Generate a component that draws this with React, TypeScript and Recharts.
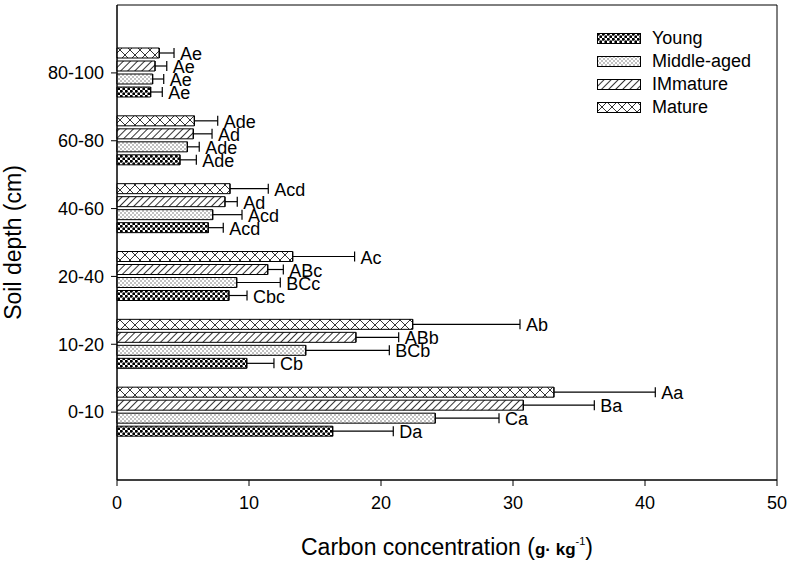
import React from 'react';
import {
  BarChart, Bar, XAxis, YAxis, ErrorBar, Label, CartesianGrid
} from 'recharts';

// depth classes, listed top to bottom as drawn
const depths = ['80-100', '60-80', '40-60', '20-40', '10-20', '0-10'];

// carbon concentration (g kg-1) and +SE for each stand age
const young = [2.55, 4.77, 6.92, 8.48, 9.83, 16.34];
const youngErr = [0.88, 1.24, 1.13, 1.37, 2.06, 4.59];
const youngSig = ['Ae', 'Ade', 'Acd', 'Cbc', 'Cb', 'Da'];

const middle = [2.7, 5.33, 7.25, 9.07, 14.3, 24.11];
const middleErr = [0.84, 0.9, 2.22, 3.3, 6.33, 4.83];
const middleSig = ['Ae', 'Ade', 'Acd', 'BCc', 'BCb', 'Ca'];

const immature = [2.88, 5.78, 8.18, 11.42, 18.1, 30.78];
const immatureErr = [0.89, 1.42, 0.93, 1.18, 3.24, 5.38];
const immatureSig = ['Ae', 'Ad', 'Ad', 'ABc', 'ABb', 'Ba'];

const mature = [3.2, 5.86, 8.56, 13.31, 22.4, 33.1];
const matureErr = [1.12, 1.77, 2.9, 4.69, 8.13, 7.68];
const matureSig = ['Ae', 'Ade', 'Acd', 'Ac', 'Ab', 'Aa'];

const xTicks = [0, 10, 20, 30, 40, 50];

const legendItems = [
  { name: 'Young', fill: 'url(#pYoung)' },
  { name: 'Middle-aged', fill: 'url(#pMiddle)' },
  { name: 'IMmature', fill: 'url(#pImmature)' },
  { name: 'Mature', fill: 'url(#pMature)' },
];

const FONT = '"Liberation Sans", Arial, sans-serif';

const data = depths.map((d, i) => ({
  depth: d,
  young: young[i], youngErr: youngErr[i],
  middle: middle[i], middleErr: middleErr[i],
  immature: immature[i], immatureErr: immatureErr[i],
  mature: mature[i], matureErr: matureErr[i],
}));

// letter label placed just past the error bar cap
const sigLabel = (vals: number[], errs: number[], letters: string[]) => (props: any) => {
  const { x, y, width, height, index } = props;
  const v = vals[index];
  const end = x + (width * (v + errs[index])) / v;
  return (
    <text x={end + 6} y={y + height / 2 + 1} dominantBaseline="central"
      fontSize={18} fontFamily={FONT} fill="#000">
      {letters[index]}
    </text>
  );
};

const LegendBox = () => (
  <div style={{ position: 'absolute', left: 597, top: 27, fontFamily: FONT, fontSize: 18 }}>
    {legendItems.map((it) => (
      <div key={it.name} style={{ display: 'flex', alignItems: 'center', height: 23 }}>
        <svg width={45} height={12} style={{ marginRight: 10 }}>
          <rect x={0.5} y={0.5} width={43} height={10} fill={it.fill} stroke="#000" />
        </svg>
        <span>{it.name}</span>
      </div>
    ))}
  </div>
);

export default function App() {
  return (
    <div style={{ position: 'absolute', left: 0, top: 0, width: 792, height: 563, background: '#fff' }}>
      <BarChart
        width={792}
        height={563}
        data={data}
        layout="vertical"
        margin={{ top: 5, right: 15, bottom: 23, left: 57 }}
        barSize={10}
        barGap={3}
      >
        <defs>
          <pattern id="pYoung" width={5} height={5} patternUnits="userSpaceOnUse">
            <rect width={5} height={5} fill="#fff" />
            <circle cx={1.25} cy={1.25} r={1.5} fill="#000" />
            <circle cx={3.75} cy={3.75} r={1.5} fill="#000" />
          </pattern>
          <pattern id="pMiddle" width={4} height={4} patternUnits="userSpaceOnUse">
            <rect width={4} height={4} fill="#fff" />
            <circle cx={1} cy={1} r={0.7} fill="#555" />
            <circle cx={3} cy={3} r={0.7} fill="#555" />
          </pattern>
          <pattern id="pImmature" width={5} height={5} patternUnits="userSpaceOnUse"
            patternTransform="rotate(45)">
            <rect width={5} height={5} fill="#fff" />
            <line x1={0} y1={0} x2={0} y2={5} stroke="#000" strokeWidth={1.6} />
          </pattern>
          <pattern id="pMature" width={10} height={10} patternUnits="userSpaceOnUse">
            <rect width={10} height={10} fill="#fff" />
            <path d="M0 0 L10 10 M10 0 L0 10" stroke="#000" strokeWidth={0.8} />
          </pattern>
        </defs>
        {/* frame around the plot area */}
        <CartesianGrid
          stroke="#000"
          strokeWidth={1}
          horizontalCoordinatesGenerator={({ offset }: any) => [offset.top, offset.top + offset.height]}
          verticalCoordinatesGenerator={({ offset }: any) => [offset.left, offset.left + offset.width]}
        />
        <XAxis
          type="number"
          domain={[0, 50]}
          ticks={xTicks}
          height={60}
          stroke="#000"
          tickSize={6}
          tickMargin={10}
          tick={{ fill: '#000', fontSize: 18, fontFamily: FONT }}
        >
          <Label
            content={(p: any) => {
              const vb = p.viewBox;
              return (
                <text x={vb.x + vb.width / 2} y={555} textAnchor="middle" fontFamily={FONT} fontSize={23} fill="#000">
                  Carbon concentration (
                  <tspan fontWeight="bold" fontSize={17}>g· kg</tspan>
                  <tspan fontSize={11} dy={-10}>-1</tspan>
                  <tspan dy={10}>)</tspan>
                </text>
              );
            }}
          />
        </XAxis>
        <YAxis
          type="category"
          dataKey="depth"
          width={60}
          stroke="#000"
          tickSize={6}
          tickMargin={7}
          padding={{ top: 34, bottom: 34 }}
          tick={{ fill: '#000', fontSize: 18, fontFamily: FONT }}
        >
          <Label
            content={(p: any) => {
              const vb = p.viewBox;
              const cy = vb.y + vb.height / 2;
              return (
                <text x={21} y={cy} textAnchor="middle" transform={`rotate(-90 21 ${cy})`}
                  fontFamily={FONT} fontSize={23} fill="#000">
                  Soil depth (cm)
                </text>
              );
            }}
          />
        </YAxis>
        <Bar dataKey="mature" name="Mature" fill="url(#pMature)" stroke="#000" isAnimationActive={false}
          label={sigLabel(mature, matureErr, matureSig)}>
          <ErrorBar dataKey={(d: any) => [0, d.matureErr]} direction="x" width={5} stroke="#000" strokeWidth={1.2} />
        </Bar>
        <Bar dataKey="immature" name="IMmature" fill="url(#pImmature)" stroke="#000" isAnimationActive={false}
          label={sigLabel(immature, immatureErr, immatureSig)}>
          <ErrorBar dataKey={(d: any) => [0, d.immatureErr]} direction="x" width={5} stroke="#000" strokeWidth={1.2} />
        </Bar>
        <Bar dataKey="middle" name="Middle-aged" fill="url(#pMiddle)" stroke="#000" isAnimationActive={false}
          label={sigLabel(middle, middleErr, middleSig)}>
          <ErrorBar dataKey={(d: any) => [0, d.middleErr]} direction="x" width={5} stroke="#000" strokeWidth={1.2} />
        </Bar>
        <Bar dataKey="young" name="Young" fill="url(#pYoung)" stroke="#000" isAnimationActive={false}
          label={sigLabel(young, youngErr, youngSig)}>
          <ErrorBar dataKey={(d: any) => [0, d.youngErr]} direction="x" width={5} stroke="#000" strokeWidth={1.2} />
        </Bar>
      </BarChart>
      <LegendBox />
    </div>
  );
}
